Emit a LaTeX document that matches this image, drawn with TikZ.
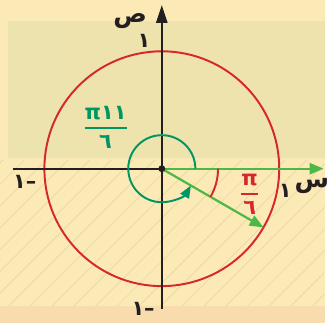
\documentclass[tikz,border=0pt]{standalone}
\usepackage{fontspec}
\usepackage{amsmath}
\usetikzlibrary{arrows.meta}
\TeXXeTstate=1
\newfontfamily\arabicfont[Script=Arabic]{DejaVu Sans}
\definecolor{paper}{HTML}{FBEAB6}
\definecolor{bgband}{HTML}{EEE2AD}
\definecolor{bgleft}{HTML}{ECE3AE}
\definecolor{bgfoot}{HTML}{F8DCAE}
\definecolor{hatchc}{HTML}{EAD8A4}
\definecolor{axisblack}{HTML}{231F20}
\definecolor{circred}{HTML}{D7262E}
\definecolor{anglegreen}{HTML}{009664}
\definecolor{vecgreen}{HTML}{4DB848}
\tikzset{
  axis/.style={line width=1.6pt, draw=axisblack},
  lab/.style={font=\arabicfont\bfseries\fontsize{15}{17}\selectfont, inner sep=0pt, text=axisblack},
  letter/.style={font=\arabicfont\bfseries\fontsize{18}{20}\selectfont, inner sep=0pt, text=axisblack},
  frac/.style={font=\arabicfont\bfseries\fontsize{15}{17}\selectfont, inner sep=0pt},
}
\begin{document}
\begin{tikzpicture}[x=0.025cm, y=0.025cm]
  \fill[paper] (-164,-156) rectangle (165,171);
  \fill[bgband] (-156,11) rectangle (165,150);
  \fill[bgleft] (-156,11) rectangle (-95,150);
  \fill[bgfoot] (-164,-156) rectangle (165,-139);
  \begin{scope}
    \clip (-164,-139) rectangle (165,8);
    \foreach \i in {-480,-458,...,160}
      \draw[hatchc, line width=0.5pt] (\i,-156) -- ++(330,330);
  \end{scope}
  \coordinate (O) at (0,0);
  \coordinate (xl) at (-151,0);
  \coordinate (xr) at (164,0);
  \coordinate (yb) at (0,-142);
  \coordinate (yt) at (0,166);
  \coordinate (P) at (-30:119);
  \draw[circred, line width=1.4pt] (O) circle[radius=119];
  \draw[axis] (xl) -- (O);
  \draw[axis, -{Triangle[length=13pt,width=8pt]}] (yb) -- (yt);
  \draw[vecgreen, line width=1.6pt, -{Triangle[length=10pt,width=8pt]}] (O) -- (xr);
  \draw[vecgreen, line width=1.6pt, -{Triangle[length=10pt,width=8pt]}] (O) -- (P);
  \draw[anglegreen, line width=1.4pt, -{Triangle[length=9pt,width=7pt]}] (34,0) arc[start angle=0, end angle=330, radius=34];
  \draw[circred, line width=1.4pt] (-30:57) arc[start angle=-30, end angle=0, radius=57];
  \fill[axisblack] (O) circle[radius=3.5];
  \node[letter] (ylab) at (-32,150) {\beginR ص\endR};
  \node[lab] (ytop) at (-18,130) {\beginR ١\endR};
  \node[lab] (ybot) at (-19,-142) {\beginR –١\endR};
  \node[lab] (xleft) at (-139,-13) {\beginR –١\endR};
  \node[lab] (xone) at (125,-22) {\beginR ١\endR};
  \node[letter] (xlab) at (152,-18) {\beginR س\endR};
  \node[frac, text=circred] (small) at (89,-26) {$\genfrac{}{}{1.4pt}{0}{\text{\beginR π\endR}}{\text{\beginR ٦\endR}}$};
  \node[frac, text=anglegreen] (big) at (-57,42) {$\genfrac{}{}{1.4pt}{0}{\text{\beginR π١١\endR}}{\text{\beginR ٦\endR}}$};
\end{tikzpicture}
\end{document}
